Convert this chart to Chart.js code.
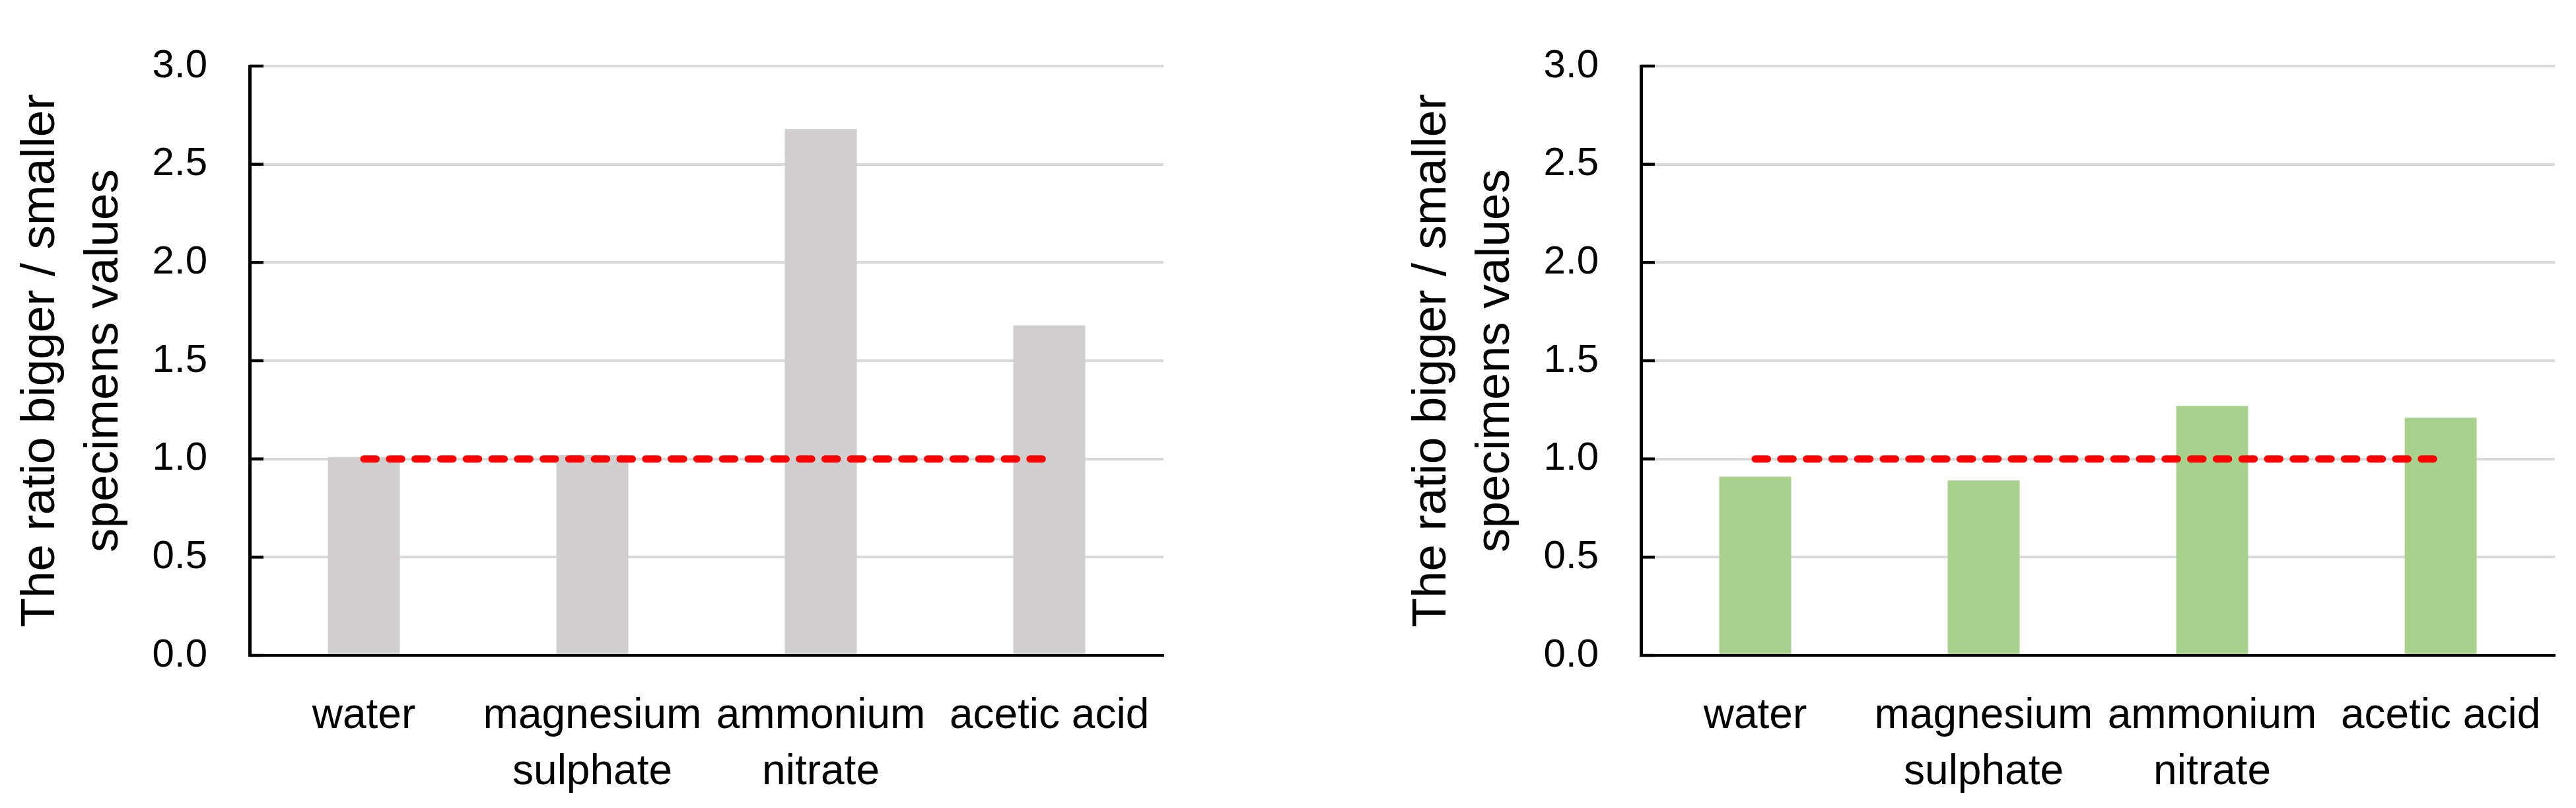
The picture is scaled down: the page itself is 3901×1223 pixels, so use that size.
<!DOCTYPE html>
<html lang="en">
<head>
  <meta charset="UTF-8" />
  <title>Ratio bigger / smaller specimens</title>
  <script src="https://cdn.jsdelivr.net/npm/chart.js"></script>
  <style>
    html, body { margin: 0; padding: 0; background: #fff; }
    body { width: 3901px; height: 1223px; position: relative; overflow: hidden; }
    canvas { position: absolute; top: 0; }
    #leftChart { left: 0; }
    #rightChart { left: 2107px; }
  </style>
</head>
<body>
  <canvas id="leftChart" width="1794" height="1223"></canvas>
  <canvas id="rightChart" width="1794" height="1223"></canvas>

  <script>
    const categories = [["water"], ["magnesium", "sulphate"], ["ammonium", "nitrate"], ["acetic acid"]];
    const leftValues = [1.01, 1.02, 2.68, 1.68];
    const rightValues = [0.91, 0.89, 1.27, 1.21];
    const referenceLine = [1, 1, 1, 1];
    const yTitle = ["The ratio bigger / smaller", "specimens values"];
    const yMin = 0, yMax = 3, yStep = 0.5;

    Chart.defaults.color = "#000";
    Chart.defaults.font.family = "'Liberation Sans', Arial, sans-serif";

    // Excel-style tick marks drawn inside the plot on the value axis
    const insideTicks = {
      id: "insideTicks",
      afterDraw(chart) {
        const { ctx, chartArea } = chart;
        const y = chart.scales.y;
        ctx.save();
        ctx.strokeStyle = "#000";
        ctx.lineWidth = 4.5;
        y.ticks.forEach(t => {
          const py = y.getPixelForValue(t.value);
          ctx.beginPath();
          ctx.moveTo(chartArea.left, py);
          ctx.lineTo(chartArea.left + 21, py);
          ctx.stroke();
        });
        ctx.restore();
      }
    };

    function makeChart(id, values, barColor) {
      return new Chart(document.getElementById(id), {
        data: {
          labels: categories,
          datasets: [
            {
              type: "line",
              data: referenceLine,
              borderColor: "#FF0000",
              borderWidth: 11,
              borderDash: [18.5, 20.3],
              borderCapStyle: "round",
              pointRadius: 0,
              fill: false,
              order: 0
            },
            {
              type: "bar",
              data: values,
              backgroundColor: barColor,
              categoryPercentage: 1,
              barPercentage: 0.315,
              order: 1
            }
          ]
        },
        options: {
          responsive: false,
          animation: false,
          devicePixelRatio: 1,
          layout: { padding: { top: 70, right: 30, left: 0, bottom: 0 } },
          plugins: { legend: { display: false }, tooltip: { enabled: false } },
          scales: {
            x: {
              grid: { display: false, drawTicks: false },
              border: { color: "#000", width: 4 },
              ticks: {
                autoSkip: false,
                maxRotation: 0,
                padding: 50,
                font: { size: 64, lineHeight: 1.33 }
              },
              afterFit: s => { s.height = 231; }
            },
            y: {
              min: yMin,
              max: yMax,
              grid: { color: "#D9D9D9", lineWidth: 4, drawTicks: false },
              border: { color: "#000", width: 5 },
              ticks: {
                stepSize: yStep,
                padding: 64,
                font: { size: 60 },
                callback: v => v.toFixed(1)
              },
              title: {
                display: true,
                text: yTitle,
                padding: { top: 14, bottom: 0 },
                font: { size: 73, lineHeight: 1.31 }
              },
              afterFit: s => { s.width = 378; }
            }
          }
        },
        plugins: [insideTicks]
      });
    }

    makeChart("leftChart", leftValues, "#D0CECE");
    makeChart("rightChart", rightValues, "#A9D18E");
  </script>
</body>
</html>
